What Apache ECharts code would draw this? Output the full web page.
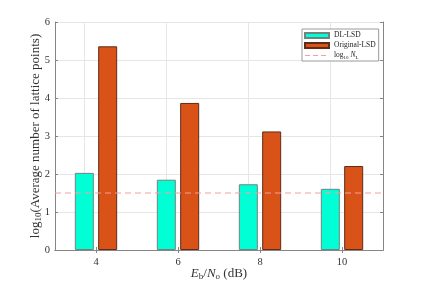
<!DOCTYPE html>
<html><head><meta charset="utf-8">
<script src="https://cdn.jsdelivr.net/npm/echarts@6/dist/echarts.min.js"></script>
<style>html,body{margin:0;padding:0;background:#fff}#c{width:424px;height:283px}</style>
</head><body><div id="c"></div>
<script>
const categories = ['4', '6', '8', '10'];
const dlLsd = [2.03, 1.85, 1.73, 1.61];
const originalLsd = [5.36, 3.87, 3.12, 2.21];
const log10NL = 1.5;
const yTicks = [0, 1, 2, 3, 4, 5, 6];

const serif = '"Liberation Serif", "DejaVu Serif", serif';
const axisCol = '#858585';
const gridCol = '#e6e6e6';
const txtCol = '#333';
const chart = echarts.init(document.getElementById('c'));
chart.setOption({
  animation: false,
  textStyle: { fontFamily: serif },
  grid: { left: 55, right: 41, top: 22, bottom: 33, containLabel: false, outerBoundsMode: 'none' },
  legend: {
    orient: 'vertical', left: 302, top: 29,
    backgroundColor: '#fff', borderColor: '#9a9a9a', borderWidth: 1,
    padding: [2, 3, 1, 2], itemGap: 1, itemWidth: 24, itemHeight: 5,
    textStyle: { fontFamily: serif, fontSize: 7.5, color: '#222', lineHeight: 9,
      rich: {
        n: { fontFamily: serif, fontSize: 7.5, color: '#222' },
        s: { fontFamily: serif, fontSize: 5, color: '#222', verticalAlign: 'bottom', padding: [3, 0, 0, 0] },
        i: { fontFamily: serif, fontSize: 7.5, fontStyle: 'italic', color: '#222' }
      } },
    formatter: function (name) {
      if (name === 'log10NL') return '{n|log}{s|10} {i|N}{s|L}';
      return name;
    },
    data: [
      { name: 'DL-LSD', icon: 'rect' },
      { name: 'Original-LSD', icon: 'rect' },
      { name: 'log10NL', itemStyle: { opacity: 0 }, lineStyle: { width: 1, color: '#f2a0a0', type: [5, 3] } }
    ]
  },
  xAxis: [
    {
      type: 'category', data: categories, position: 'bottom',
      axisLine: { lineStyle: { color: axisCol, width: 1 } },
      axisTick: { show: true, inside: true, alignWithLabel: true, length: 3, lineStyle: { color: axisCol } },
      axisLabel: { fontFamily: serif, fontSize: 10.5, color: txtCol, margin: 7 },
      splitLine: { show: false },
      name: '{i|E}{s|b}{n|/}{i|N}{s|o}{n| (dB)}', nameLocation: 'middle', nameGap: 17, nameMoveOverlap: false,
      nameTextStyle: { rich: {
        n: { fontFamily: serif, fontSize: 13, color: txtCol },
        i: { fontFamily: serif, fontSize: 13, fontStyle: 'italic', color: txtCol },
        s: { fontFamily: serif, fontSize: 9, color: txtCol, verticalAlign: 'bottom', padding: [5, 0, 0, 0] }
      } }
    },
    {
      type: 'category', data: categories, position: 'top',
      axisLine: { lineStyle: { color: axisCol, width: 1 } },
      axisTick: { show: true, inside: true, alignWithLabel: true, length: 3, lineStyle: { color: axisCol } },
      axisLabel: { show: false }, splitLine: { show: false }
    },
    { type: 'value', min: 0, max: 1, show: false }
  ],
  yAxis: [
    {
      type: 'value', min: 0, max: 6, interval: 1, position: 'left',
      axisLine: { show: true, lineStyle: { color: axisCol, width: 1 } },
      axisTick: { show: true, inside: true, length: 3, lineStyle: { color: axisCol } },
      axisLabel: { fontFamily: serif, fontSize: 10.5, color: txtCol, margin: 5,
        formatter: function (v) { return yTicks.indexOf(v) >= 0 ? String(v) : ''; } },
      splitLine: { show: true, lineStyle: { color: gridCol, width: 1 } },
      name: '{n|log}{s|10}{n|(Average number of lattice points)}', nameLocation: 'middle', nameGap: 12, nameMoveOverlap: false,
      nameTextStyle: { rich: {
        n: { fontFamily: serif, fontSize: 13, color: txtCol },
        s: { fontFamily: serif, fontSize: 9, color: txtCol, verticalAlign: 'bottom', padding: [5, 0, 0, 0] }
      } }
    },
    {
      type: 'value', min: 0, max: 6, interval: 1, position: 'right',
      axisLine: { show: true, lineStyle: { color: axisCol, width: 1 } },
      axisTick: { show: true, inside: true, length: 3, lineStyle: { color: axisCol } },
      axisLabel: { show: false }, splitLine: { show: false }
    }
  ],
  series: [
    {
      name: 'DL-LSD', type: 'bar', xAxisIndex: 0, yAxisIndex: 0, data: dlLsd,
      barWidth: 19, barGap: '23%', z: 3,
      itemStyle: { color: '#00FFD5', borderColor: '#6f8580', borderWidth: 1 },
      markLine: {
        z: 1, silent: true, symbol: 'none', animation: false,
        label: { show: false },
        lineStyle: { color: gridCol, width: 1, type: 'solid' },
        emphasis: { disabled: true },
        data: categories.map(function (c) { return { xAxis: c }; })
      }
    },
    {
      name: 'Original-LSD', type: 'bar', xAxisIndex: 0, yAxisIndex: 0, data: originalLsd,
      barWidth: 19, barGap: '23%', z: 3,
      itemStyle: { color: '#D95319', borderColor: '#5e2c18', borderWidth: 1 }
    },
    {
      name: 'log10NL', type: 'line', xAxisIndex: 2, yAxisIndex: 0,
      data: [[0, log10NL], [1, log10NL]], symbol: 'none', z: 4,
      lineStyle: { color: '#f2a0a0', width: 1, type: [6, 4] },
      itemStyle: { color: '#f2a0a0' }
    }
  ]
});
</script></body></html>
